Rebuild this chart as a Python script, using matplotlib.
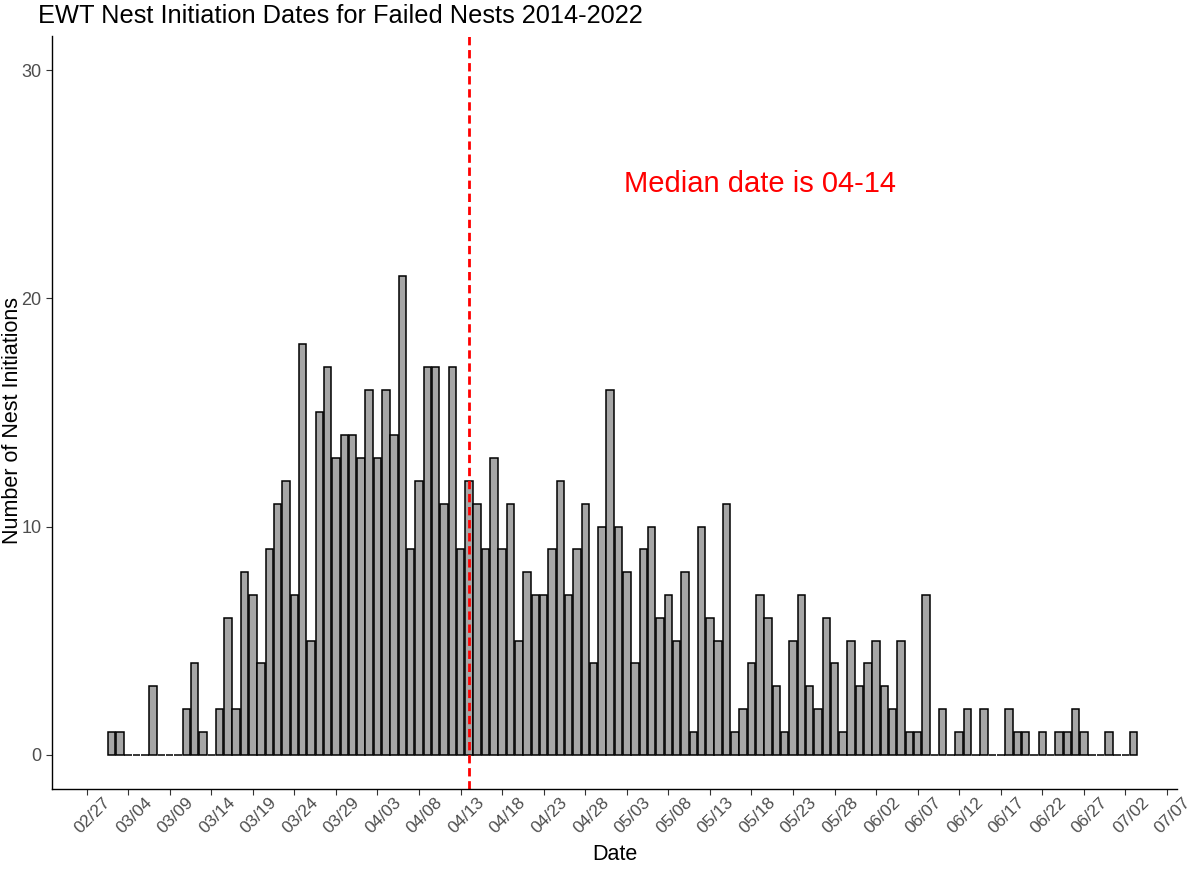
import matplotlib
matplotlib.use('Agg')
import matplotlib.pyplot as plt   # Plotting
import matplotlib.transforms as mtrans
import pandas as pd               # Dates

plt.rcParams['font.family'] = ['Liberation Sans', 'DejaVu Sans']

# Daily counts of failed-nest initiations, 03/02 .. 07/03
first_day = "2022-03-02"
counts = [1, 1, 0, 0, 0, 3, 0, 0, 0, 2, 4, 1, 0, 2, 6, 2, 8, 7, 4, 9,
          11, 12, 7, 18, 5, 15, 17, 13, 14, 14, 13, 16, 13, 16, 14, 21, 9, 12, 17, 17,
          11, 17, 9, 12, 11, 9, 13, 9, 11, 5, 8, 7, 7, 9, 12, 7, 9, 11, 4, 10,
          16, 10, 8, 4, 9, 10, 6, 7, 5, 8, 1, 10, 6, 5, 11, 1, 2, 4, 7, 6,
          3, 1, 5, 7, 3, 2, 6, 4, 1, 5, 3, 4, 5, 3, 2, 5, 1, 1, 7, 0,
          2, 0, 1, 2, 0, 2, 0, 0, 2, 1, 1, 0, 1, 0, 1, 1, 2, 1, 0, 0,
          1, 0, 0, 1]
dates = pd.date_range(first_day, periods=len(counts), freq="D")

median_date = "2022-04-14"
median_label = "Median date is 04-14"
label_pos = ("2022-05-19", 25)

tick_labels = ["02/27", "03/04", "03/09", "03/14", "03/19", "03/24", "03/29",
               "04/03", "04/08", "04/13", "04/18", "04/23", "04/28", "05/03",
               "05/08", "05/13", "05/18", "05/23", "05/28", "06/02", "06/07",
               "06/12", "06/17", "06/22", "06/27", "07/02", "07/07"]
tick_dates = [pd.Timestamp("2022/" + t) for t in tick_labels]

fig = plt.figure(figsize=(12, 8.72), dpi=100)
ax = fig.add_axes([0.0433, 0.0952, 0.9375, 0.8635])

ax.bar(dates, counts, width=0.9, color="#A6A6A6", edgecolor="black", linewidth=1.1)
ax.axvline(pd.Timestamp(median_date), color="red", linestyle=(0, (3, 1.7)), linewidth=2.0)
ax.text(pd.Timestamp(label_pos[0]), label_pos[1], median_label, color="red",
        fontsize=21, ha="center", va="center")

ax.set_xticks(tick_dates)
ax.set_xticklabels(tick_labels, rotation=45, ha="right", rotation_mode="anchor")
ax.set_xlim(pd.Timestamp("2022-02-27") - pd.Timedelta(days=4.17),
            pd.Timestamp("2022-02-27") + pd.Timedelta(days=131.2))
ax.set_yticks([0, 10, 20, 30])
ax.set_ylim(-1.5, 31.5)

for side in ["top", "right"]:
    ax.spines[side].set_visible(False)
for side in ["left", "bottom"]:
    ax.spines[side].set_linewidth(1.0)
ax.tick_params(axis="both", colors="#333333", labelcolor="#4D4D4D", labelsize=13,
               length=4, width=0.8)
ax.tick_params(axis="x", pad=6, labelsize=12.5)

# ggplot-style placement of the rotated labels (after tick_params, which resets them)
shift = mtrans.ScaledTranslation(0.16, 0.08, fig.dpi_scale_trans)
for lab in ax.get_xticklabels():
    lab.set_transform(lab.get_transform() + shift)

ax.set_xlabel("Date", fontsize=15.5, va="center")
ax.xaxis.set_label_coords(0.5, -0.0876)
ax.set_ylabel("Number of Nest Initiations", fontsize=15.5, va="center")
ax.yaxis.set_label_coords(-0.0351, 0.49)
fig.text(0.032, 0.982, "EWT Nest Initiation Dates for Failed Nests 2014-2022",
         fontsize=18.3, ha="left", va="center")

fig.savefig("out.png", dpi=100)
